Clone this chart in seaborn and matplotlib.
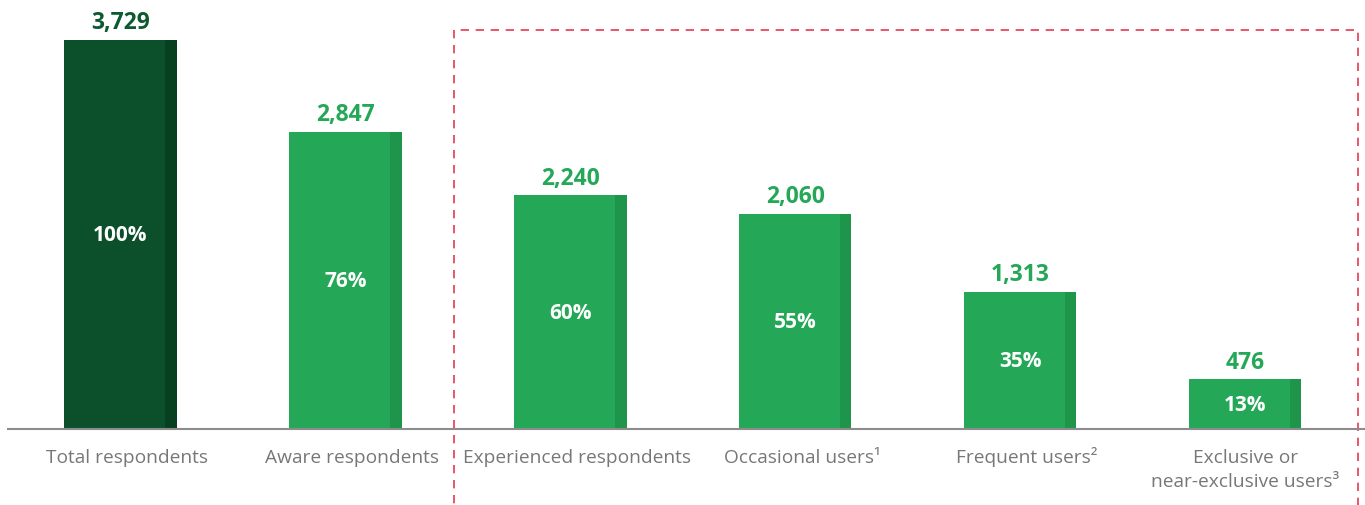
import matplotlib
matplotlib.use("Agg")
import matplotlib.pyplot as plt
import matplotlib.transforms as mtransforms
from matplotlib.patches import Rectangle
import seaborn as sns
import pandas as pd

categories = ["Total respondents", "Aware respondents", "Experienced respondents",
              "Occasional users¹", "Frequent users²", "Exclusive or\nnear-exclusive users³"]
counts = [3729, 2847, 2240, 2060, 1313, 476]
shares = ["100%", "76%", "60%", "55%", "35%", "13%"]

dark_green = "#0b4f2b"
dark_edge = "#074021"
green = "#24a857"
green_edge = "#1f944b"

df = pd.DataFrame({"category": categories, "count": counts})

sns.set_theme(style="white")
plt.rcParams["font.family"] = ["Open Sans", "DejaVu Sans"]

fig = plt.figure(figsize=(13.65, 5.06), dpi=100)
ax = fig.add_axes([8 / 1365, 76 / 506, 1 - 8 / 1365, 430 / 506])

palette = [dark_green] + [green] * (len(categories) - 1)
sns.barplot(data=df, x="category", y="count", hue="category", palette=palette,
            legend=False, width=0.5, ax=ax, saturation=1, linewidth=0)

ax.set_xlim(-0.5, 5.533)
ax.set_ylim(0, 4122)

# darker strip on the right side of each bar
for i, p in enumerate(ax.patches[:len(categories)]):
    x, w, h = p.get_x(), p.get_width(), p.get_height()
    edge = dark_edge if i == 0 else green_edge
    ax.add_patch(Rectangle((x + w * 0.895, 0), w * 0.105, h, color=edge, lw=0))
    col = "#0d5a31" if i == 0 else green
    ax.text(x + w / 2, h + 55, f"{counts[i]:,}", ha="center", va="bottom",
            fontsize=16.5, fontweight="bold", color=col)
    ax.text(x + w / 2, h / 2, shares[i], ha="center", va="center",
            fontsize=15, fontweight="bold", color="white")

ax.set_xlabel("")
ax.set_ylabel("")
ax.set_yticks([])
ax.tick_params(axis="x", length=0, pad=14, labelsize=13.8, labelcolor="#777777")
for lbl in ax.get_xticklabels():
    lbl.set_verticalalignment("top")
    lbl.set_linespacing(1.4)
    # single-line labels sit a little right of the bar centres in the original
    dx = 0 if "\n" in lbl.get_text() else 5 / 72
    dy = 2 / 72 if "²" in lbl.get_text() else 0
    lbl.set_transform(lbl.get_transform() +
                      mtransforms.ScaledTranslation(dx, dy, fig.dpi_scale_trans))
for s in ["top", "right", "left"]:
    ax.spines[s].set_visible(False)
ax.spines["bottom"].set_color("#8c8c8c")
ax.spines["bottom"].set_linewidth(1.5)

# dashed box around the user groups
box = Rectangle((1.484, -900), 5.502 - 1.484, 3825 + 900, fill=False,
                edgecolor="#e8384f", lw=1.2, ls=(0, (5, 4)), clip_on=False)
ax.add_patch(box)

fig.savefig("out.png", dpi=100)
